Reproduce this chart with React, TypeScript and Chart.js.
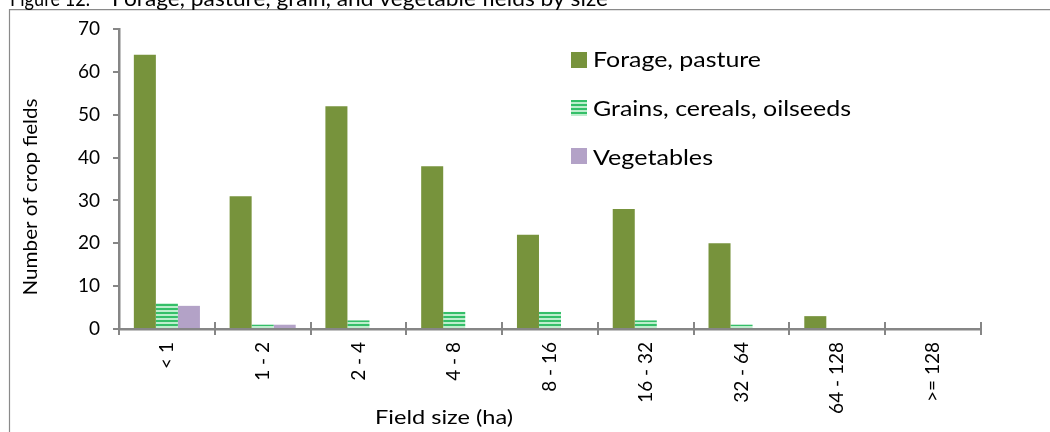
import { useEffect, useRef } from "react";
import { Chart, registerables } from "chart.js";

Chart.register(...registerables);

const categories = ["< 1", "1 - 2", "2 - 4", "4 - 8", "8 - 16", "16 - 32", "32 - 64", "64 - 128", ">= 128"];
const forage = [64, 31, 52, 38, 22, 28, 20, 3, 0];
const grains = [6, 1, 2, 4, 4, 2, 1, 0, 0];
const vegetables = [5.4, 1, 0, 0, 0, 0, 0, 0, 0];
const seriesNames = ["Forage, pasture", "Grains, cereals, oilseeds", "Vegetables"];
const yMin = 0;
const yMax = 70;
const yStep = 10;
const titleNumber = "Figure 12.";
const titleText = "Forage, pasture, grain, and vegetable fields by size";
const yTitle = "Number of crop fields";
const xTitle = "Field size (ha)";

const FONT = "Lato, 'Liberation Sans', Arial, sans-serif";
const AXIS = "#868686";

function makeStripe(): CanvasPattern | string {
  const c = document.createElement("canvas");
  c.width = 4;
  c.height = 4;
  const g = c.getContext("2d");
  if (!g) return "#3cbe6c";
  g.fillStyle = "#bdeecd";
  g.fillRect(0, 0, 4, 4);
  g.fillStyle = "#35bf69";
  g.fillRect(0, 0, 4, 2);
  const p = g.createPattern(c, "repeat");
  return p || "#3cbe6c";
}

function fitText(
  ctx: CanvasRenderingContext2D,
  text: string,
  x: number,
  y: number,
  width: number,
  font: string,
  align: "left" | "center",
  rotate: boolean,
  baseline: CanvasTextBaseline
) {
  ctx.save();
  ctx.font = font;
  ctx.textBaseline = baseline;
  ctx.textAlign = "left";
  const w = ctx.measureText(text).width;
  ctx.translate(x, y);
  if (rotate) ctx.rotate(-Math.PI / 2);
  ctx.scale(width / w, 1);
  ctx.fillText(text, align === "center" ? -w / 2 : 0, 0);
  ctx.restore();
}

export default function App() {
  const ref = useRef<HTMLCanvasElement | null>(null);

  useEffect(() => {
    const canvas = ref.current;
    if (!canvas) return;
    const stripe = makeStripe();
    const colors: any[] = ["#77933c", stripe, "#b3a2c7"];

    const decor = {
      id: "decor",
      beforeDraw(chart: any) {
        const ctx = chart.ctx as CanvasRenderingContext2D;
        ctx.save();
        ctx.fillStyle = "#ffffff";
        ctx.fillRect(0, 0, chart.width, chart.height);
        ctx.strokeStyle = "#8a8a8a";
        ctx.lineWidth = 1.2;
        ctx.beginPath();
        ctx.moveTo(9.5, 440);
        ctx.lineTo(9.5, 9.6);
        ctx.lineTo(1060, 9.6);
        ctx.stroke();
        ctx.fillStyle = "#000";
        fitText(ctx, titleNumber, 10, 6, 80, `22px ${FONT}`, "left", false, "alphabetic");
        fitText(ctx, titleText, 112, 6, 496, `22px ${FONT}`, "left", false, "alphabetic");
        ctx.restore();
      },
      afterDraw(chart: any) {
        const ctx = chart.ctx as CanvasRenderingContext2D;
        const { left, right, bottom } = chart.chartArea;
        ctx.save();
        ctx.strokeStyle = AXIS;
        ctx.lineWidth = 2;
        const n = categories.length;
        for (let i = 0; i <= n; i++) {
          const x = Math.round(left + (i * (right - left)) / n);
          ctx.beginPath();
          ctx.moveTo(x, bottom - 7);
          ctx.lineTo(x, bottom + 6);
          ctx.stroke();
        }
        ctx.fillStyle = "#000";
        fitText(ctx, yTitle, 31, 197, 197, `20px ${FONT}`, "center", true, "middle");
        fitText(ctx, xTitle, 444, 418, 138, `20px ${FONT}`, "center", false, "middle");
        const lx = 571;
        const tops = [52, 100, 148];
        const bases = [67, 116, 165];
        const widths = [168, 258, 120];
        for (let i = 0; i < 3; i++) {
          ctx.fillStyle = colors[i];
          ctx.fillRect(lx, tops[i], 16, 16);
          ctx.fillStyle = "#000";
          fitText(ctx, seriesNames[i], 593, bases[i], widths[i], `22px ${FONT}`, "left", false, "alphabetic");
        }
        ctx.restore();
      },
    };

    const chart = new Chart(canvas, {
      type: "bar",
      data: {
        labels: categories,
        datasets: [
          { label: seriesNames[0], data: forage, backgroundColor: colors[0], borderWidth: 0 },
          { label: seriesNames[1], data: grains, backgroundColor: colors[1], borderWidth: 0 },
          { label: seriesNames[2], data: vegetables, backgroundColor: colors[2], borderWidth: 0 },
        ],
      },
      options: {
        animation: false,
        responsive: false,
        maintainAspectRatio: false,
        devicePixelRatio: 1,
        layout: { padding: { left: 0, right: 69, top: 29, bottom: 0 } },
        datasets: { bar: { categoryPercentage: 0.69, barPercentage: 1 } },
        plugins: { legend: { display: false }, tooltip: { enabled: false }, title: { display: false } },
        scales: {
          x: {
            afterFit: (s: any) => {
              s.height = 103;
            },
            grid: { display: true, drawOnChartArea: false, drawTicks: false, offset: true, color: "rgba(0,0,0,0)" },
            border: { display: true, color: AXIS, width: 2.5 },
            ticks: {
              autoSkip: false,
              minRotation: 90,
              maxRotation: 90,
              padding: 13,
              color: "#000",
              font: { family: FONT, size: 19 },
            },
          },
          y: {
            min: yMin,
            max: yMax,
            afterFit: (s: any) => {
              s.width = 119;
            },
            grid: { drawOnChartArea: false, drawTicks: true, tickLength: 6, color: AXIS, lineWidth: 2 },
            border: { display: true, color: AXIS, width: 2.5 },
            ticks: {
              stepSize: yStep,
              padding: 13,
              color: "#000",
              font: { family: FONT, size: 19 },
            },
          },
        },
      },
      plugins: [decor],
    });
    return () => chart.destroy();
  }, []);

  return (
    <div style={{ position: "fixed", left: 0, top: 0, width: 1050, height: 432, background: "#fff" }}>
      <canvas ref={ref} width={1050} height={432} style={{ display: "block", width: 1050, height: 432 }} />
    </div>
  );
}
